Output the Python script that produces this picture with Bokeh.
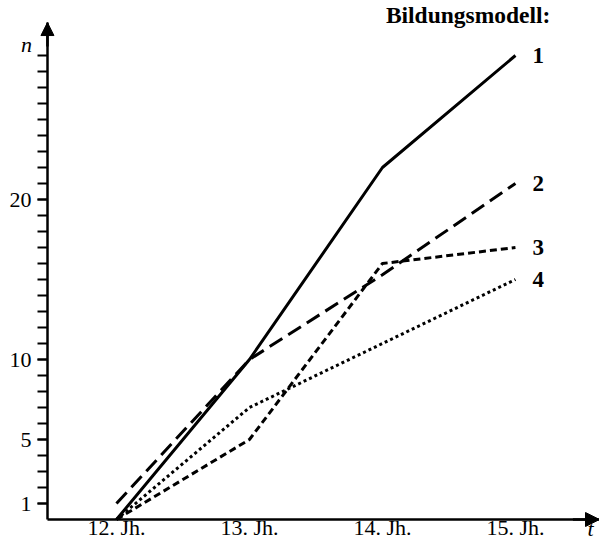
from bokeh.plotting import figure
from bokeh.models import FixedTicker, Arrow, NormalHead, Label, Range1d
from bokeh.core.properties import value
from bokeh.embed import file_html
from bokeh.resources import INLINE

# ---- data ----
century = [12, 13, 14, 15]
century_labels = ["12. Jh.", "13. Jh.", "14. Jh.", "15. Jh."]
model1 = [0, 10, 22, 29]
model2 = [1, 10, 15.3, 21]
model3 = [0, 5, 16, 17]
model4 = [0, 7, 11, 15]
model_names = ["1", "2", "3", "4"]
y_major = [1, 5, 10, 20]
y_minor = list(range(1, 30))
legend_title = "Bildungsmodell:"

FONT = "Liberation Serif"
XL, XR = 11.128, 15.632      # visible x range
XAX = 11.481                 # where the n-axis stands
YB, YT = -1.3125, 32.4375    # visible y range
YTIP = 31.06                 # top of the n-axis arrow

p = figure(width=599, height=540, output_backend="svg", toolbar_location=None,
           x_range=Range1d(XL, XR), y_range=Range1d(YB, YT),
           min_border=0, min_border_left=0, min_border_right=0,
           min_border_top=0, min_border_bottom=0)
p.outline_line_color = None
p.xgrid.grid_line_color = None
p.ygrid.grid_line_color = None

# y axis
ya = p.yaxis[0]
ya.fixed_location = XAX
ya.bounds = (0, YTIP)
ya.ticker = FixedTicker(ticks=y_major, minor_ticks=y_minor)
ya.axis_line_width = 2.5
ya.axis_line_color = "black"
ya.major_tick_out = 10
ya.major_tick_in = 0
ya.minor_tick_out = 10
ya.minor_tick_in = 0
ya.major_tick_line_width = 2
ya.minor_tick_line_width = 2
ya.major_tick_line_color = "black"
ya.minor_tick_line_color = "black"
ya.major_label_standoff = 6
ya.major_label_text_font = FONT
ya.major_label_text_font_size = "22px"
ya.major_label_text_color = "black"

# x axis
xa = p.xaxis[0]
xa.fixed_location = 0
xa.bounds = (XAX, XR)
xa.ticker = FixedTicker(ticks=century, minor_ticks=[])
xa.major_label_overrides = dict(zip(century, century_labels))
xa.axis_line_width = 2.5
xa.axis_line_color = "black"
xa.major_tick_out = 0
xa.major_tick_in = 0
xa.minor_tick_out = 0
xa.minor_tick_in = 0
xa.major_label_standoff = -5
xa.major_label_text_font = FONT
xa.major_label_text_font_size = "22px"
xa.major_label_text_color = "black"

# series
series = [model1, model2, model3, model4]
dashes = ["solid", "15 7", "7 4", "3 3"]
for vals, dash in zip(series, dashes):
    p.line(century, vals, line_width=3, line_color="black", line_dash=dash)

p.text(x=[century[-1]] * 4, y=[s[-1] for s in series], text=model_names,
       x_offset=17, text_baseline="middle", text_align="left",
       text_font=value(FONT), text_font_style="bold", text_font_size="23px",
       text_color="black")

# axis arrows
p.add_layout(Arrow(end=NormalHead(size=14, fill_color="black", line_color="black", line_width=1),
                   x_start=XR - 0.2, y_start=0, x_end=XR, y_end=0,
                   line_width=2.5, line_color="black"))
p.add_layout(Arrow(end=NormalHead(size=13, fill_color="black", line_color="black", line_width=1),
                   x_start=XAX, y_start=YTIP - 1.5, x_end=XAX, y_end=YTIP,
                   line_width=2.5, line_color="black"))

# texts
p.add_layout(Label(x=15.263, y=31.56, text=legend_title, text_align="right",
                   text_baseline="middle", text_font=FONT, text_font_style="bold",
                   text_font_size="23.5px", text_color="black"))
p.add_layout(Label(x=11.323, y=29.69, text="n", text_align="center",
                   text_baseline="middle", text_font=FONT, text_font_style="italic",
                   text_font_size="22px", text_color="black"))
p.add_layout(Label(x=15.564, y=-0.55, text="t", text_align="center",
                   text_baseline="middle", text_font=FONT, text_font_style="italic",
                   text_font_size="22px", text_color="black"))

open("out.html", "w").write(file_html(p, INLINE))
